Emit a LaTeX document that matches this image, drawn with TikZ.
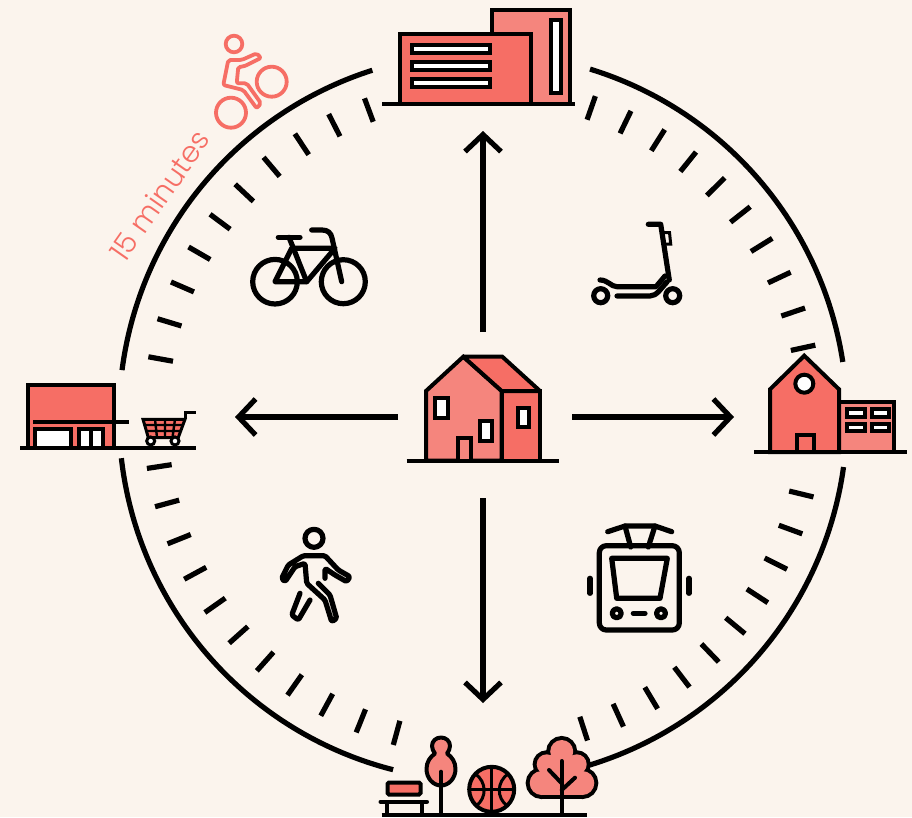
\documentclass[tikz,border=0pt]{standalone}
\usepackage{fontspec}
\usetikzlibrary{arrows.meta}
\newfontfamily\lab{Poppins}[UprightFont=* Light]
\definecolor{bgc}{HTML}{FBF4ED}
\definecolor{redA}{HTML}{F66E65}
\definecolor{redB}{HTML}{F5857D}
\tikzset{
  ring/.style={line width=5.2pt,black},
  tick/.style={line width=5.2pt,black},
  link/.style={line width=5.2pt,black,-{Straight Barb[length=17pt,width=36pt,line width=5.2pt]}},
  bld/.style={line width=4pt,black,line join=miter,miter limit=2},
  fa/.style={bld,fill=redA},
  fb/.style={bld,fill=redB},
  win/.style={line width=4pt,black,fill=white},
  ico/.style={line width=5.2pt,black,line cap=round,line join=round},
  rider/.style={line width=3.8pt,redA,line cap=round,line join=round},
}
\begin{document}
\begin{tikzpicture}[x=1pt,y=-1pt]
\fill[bgc] (0,0) rectangle (912,817);
\useasboundingbox (0,0) rectangle (912,817);
\coordinate (c) at (483,417);
% ring arcs
\draw[ring] (c) ++(252.3:364) arc[start angle=252.3,end angle=187.4,radius=364];
\draw[ring] (c) ++(287.1:364) arc[start angle=287.1,end angle=351.3,radius=364];
\draw[ring] (c) ++(7.9:364) arc[start angle=7.9,end angle=74,radius=364];
\draw[ring] (c) ++(173.5:364) arc[start angle=173.5,end angle=104.3,radius=364];
% ticks
\foreach \k in {0,...,9}{
  \pgfmathsetmacro\a{190.2+6.6*\k}
  \draw[tick] (c) ++(\a:340) -- ++(\a:-25);
  \pgfmathsetmacro\a{347.8-6.5*\k}
  \draw[tick] (c) ++(\a:340) -- ++(\a:-25);
  \pgfmathsetmacro\a{13.6+6.5*\k}
  \draw[tick] (c) ++(\a:340) -- ++(\a:-25);
}
\foreach \k in {0,...,10}{
  \pgfmathsetmacro\a{171.3-6.6*\k}
  \draw[tick] (c) ++(\a:340) -- ++(\a:-25);
}
% arrows
\coordinate (nS) at (483,332); \coordinate (nE) at (483,131);
\coordinate (sS) at (483,498); \coordinate (sE) at (483,703);
\coordinate (wS) at (398,417); \coordinate (wE) at (235,417);
\coordinate (eS) at (572,417); \coordinate (eE) at (734,417);
\draw[link] (nS) -- (nE);
\draw[link] (sS) -- (sE);
\draw[link] (wS) -- (wE);
\draw[link] (eS) -- (eE);
% centre house
\draw[fb] (426,460.5) -- (426,391) -- (463.3,356.7) -- (501.7,391) -- (501.7,460.5) -- cycle;
\draw[fa] (501.7,391) rectangle (540,460.5);
\draw[fa] (463.3,356.7) -- (502.3,356.7) -- (540,391) -- (501.7,391) -- cycle;
\draw[win] (435.3,398.3) rectangle (447.7,418.3);
\draw[win] (480,420.7) rectangle (492.3,441);
\draw[win] (517.7,408.3) rectangle (529,426.7);
\draw[fb] (458.3,460.5) -- (458.3,438) -- (470.7,438) -- (470.7,460.5);
\draw[bld] (406.7,460.7) -- (559.3,460.7);
% office
\draw[fb] (492,10) rectangle (569.5,104);
\draw[fa] (400,33.5) rectangle (531,104);
\draw[win] (412,44.5) rectangle (490,53);
\draw[win] (412,61.5) rectangle (490,70);
\draw[win] (412,78.5) rectangle (490,87);
\draw[win] (550.5,20) rectangle (561,93);
\draw[bld] (382,104) -- (575,104);
% store
\draw[fa] (27.7,385) rectangle (114,447.7);
\draw[win] (34.5,429) rectangle (71,447.7);
\draw[win] (78.7,429) rectangle (103,447.7);
\draw[bld] (91,429) -- (91,447.7);
\draw[bld] (33,422.3) -- (129,422.3);
\draw[bld] (20,447.7) -- (196,447.7);
% cart
\draw[line width=3pt,fill=redA,line join=miter] (143,419.3) -- (185,419.3) -- (178.3,437.5) -- (148.3,437.5) -- cycle;
\draw[line width=2.4pt] (145,425) -- (183,425) (146.5,431) -- (181,431)
  (155,419.3) -- (157,437.5) (165,419.3) -- (165,437.5) (175,419.3) -- (172.5,437.5);
\draw[line width=3pt] (185,419.3) -- (185,412.3) -- (196,412.3);
\draw[line width=3pt,fill=white] (150.7,441) circle[radius=4];
\draw[line width=3pt,fill=white] (175,441) circle[radius=4];
% school
\draw[fb] (839,401.7) rectangle (894.3,452);
\draw[fa] (770,452) -- (770,389.3) -- (804.3,355.7) -- (839,389.3) -- (839,452) -- cycle;
\draw[win] (804.3,383.7) circle[radius=9];
\draw[fa] (796.7,452) -- (796.7,435) -- (814,435) -- (814,452);
\draw[win] (846.7,409) rectangle (864.7,416.5);
\draw[win] (871.7,409) rectangle (889.3,416.5);
\draw[win] (846.7,423.5) rectangle (864.7,431);
\draw[win] (871.7,423.5) rectangle (889.3,431);
\draw[bld] (754,452.3) -- (907,452.3);
% park: bench
\draw[fa,rounded corners=1.5pt] (387.5,782.5) rectangle (420.5,794.5);
\draw[bld,line cap=round] (380.5,801.7) -- (427,801.7);
\draw[bld] (386.7,801.7) -- (386.7,814) (421.7,801.7) -- (421.7,814);
% park: slim tree
\draw[fb,line join=round] (441,737.5) .. controls (446,737.5) and (450,741) .. (450,746)
  .. controls (450,749) and (448.5,751.5) .. (447,753.5)
  .. controls (452,757) and (455.5,762) .. (455.5,769)
  .. controls (455.5,778) and (449,785.5) .. (441,785.5)
  .. controls (433,785.5) and (426.5,778) .. (426.5,769)
  .. controls (426.5,762) and (430,757) .. (435,753.5)
  .. controls (433.5,751.5) and (432,749) .. (432,746)
  .. controls (432,741) and (436,737.5) .. (441,737.5) -- cycle;
\draw[bld,line cap=round] (441,771.7) -- (441,814);
% park: ball
\draw[fa] (491.7,789.3) circle[radius=22.5];
\draw[line width=3pt] (491.7,767) -- (491.7,811.5) (469.5,789.3) -- (514,789.3);
\draw[line width=3pt] (475,773.5) .. controls (487,782) and (487,798) .. (476,806);
\draw[line width=3pt] (508.4,773.5) .. controls (496.4,782) and (496.4,798) .. (507.4,806);
% park: big tree
\foreach \p/\r in {{(561.7,751.5)}/11.5,{(546.7,764.3)}/10,{(576.7,764.3)}/10,{(541.7,783)}/12,{(582.3,783)}/12}{
  \draw[black,line width=8pt,fill=black] \p circle[radius=\r];
}
\draw[black,line width=8pt,line join=round,fill=black] (541.7,768) rectangle (582.3,795);
\foreach \p/\r in {{(561.7,751.5)}/11.5,{(546.7,764.3)}/10,{(576.7,764.3)}/10,{(541.7,783)}/12,{(582.3,783)}/12}{
  \fill[redB] \p circle[radius=\r];
}
\fill[redB] (541.7,768) rectangle (582.3,795);
\fill[redB] (552,755) rectangle (571,770);
\draw[bld,line cap=round] (561.7,761) -- (561.7,814);
\draw[bld,line cap=round] (549,770) -- (561.7,783.3);
\draw[bld,line cap=round] (575,777.7) -- (561.7,790);
\draw[bld] (381.7,814.5) -- (586.7,814.5);
% rider
\draw[rider] (234,44) circle[radius=8.3];
\draw[rider] (231,112.7) circle[radius=15];
\draw[rider] (271.7,81.7) circle[radius=15];
\draw[rider,rounded corners=2pt] (228.3,60) -- (241.7,60) -- (256.7,53.3) -- (261,58) -- (243.3,66.7) -- (238.3,66.7) -- (236.7,83.3) -- (246.7,83.3) -- (261,103.3) -- (256.7,108.3) -- (243.3,90) -- (223.3,85) -- cycle;
% label
\node[anchor=base,rotate=55,inner sep=0pt,text=redA,font=\lab\fontsize{29}{29}\selectfont] (lbl) at (168.2,201.5) {15 minutes};
% bicycle
\draw[ico] (275,281.7) circle[radius=22.3];
\draw[ico] (343.3,281.7) circle[radius=22];
\draw[ico] (275,281.7) -- (306.7,281.7) -- (335,248.3) -- (291.7,248.3) -- cycle;
\draw[ico] (289,237.3) -- (306.7,281.7);
\draw[ico] (278.3,237.3) -- (300,237.3);
\draw[ico] (311.7,230) -- (322,230) .. controls (328,230) and (331,233) .. (332,238) -- (341.7,281.7);
% scooter
\draw[ico] (600.7,295.7) circle[radius=7];
\draw[ico] (672.7,295.7) circle[radius=7];
\draw[ico] (648.3,224.3) -- (660.7,224.3) -- (669.3,280);
\draw[ico] (600,280) .. controls (608,280) and (611,286.7) .. (617,286.7) -- (656,286.7) -- (665,276);
\draw[ico] (617,296) -- (650,296) .. controls (657,296) and (661,288) .. (667,282);
\draw[line width=3pt] (663.3,232.5) -- (669.5,232.5) -- (670.7,244) -- (664.5,244);
% pedestrian
\draw[ico] (314,538.3) circle[radius=9];
\draw[ico,rounded corners=1.5pt] (325,578.3) -- (325,568.3) -- (335,575) -- (346.7,581.7) -- (350,576.7) -- (338.3,570) -- (325,555.7) -- (303.3,555.7) -- (288.3,565) -- (281.7,578.3) -- (285,581.7) -- (295,566.7) -- (305,563.3) -- (306.7,583.3) -- (325,600) -- (331.7,621.7) -- (336.7,618.3) -- (330,595) -- (318.3,583.3);
\draw[ico,rounded corners=1.5pt] (300,593.3) -- (291.7,615) -- (298.3,620) -- (310,600);
% tram
\draw[ico,rounded corners=7pt] (599.3,545.7) rectangle (679.3,630);
\draw[ico] (611.7,558.3) -- (667.3,558.3) -- (660,598.3) -- (616.7,598.3) -- cycle;
\draw[ico] (616.7,613.3) circle[radius=4.5];
\draw[ico] (661,613.3) circle[radius=4.5];
\draw[ico] (633.3,613.3) -- (645,613.3);
\draw[ico] (590,578.3) -- (590,593.3);
\draw[ico] (689,578.3) -- (689,593.3);
\draw[ico] (607.7,531.7) -- (625,526) -- (655,526) -- (671.7,531.7);
\draw[ico] (625,526) -- (630.7,547);
\draw[ico] (655,526) -- (648.3,547);
\end{tikzpicture}
\end{document}
